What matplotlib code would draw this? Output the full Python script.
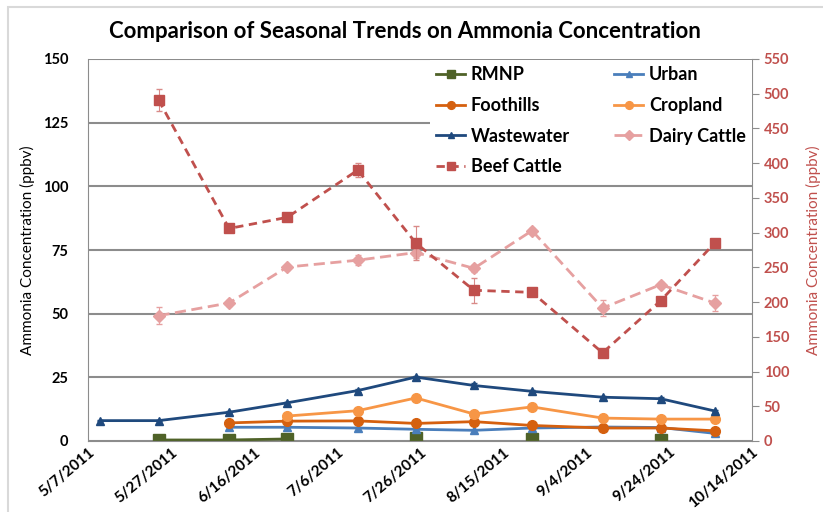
import numpy as np
import pandas as pd
import matplotlib
matplotlib.use("Agg")
import matplotlib.pyplot as plt
from matplotlib.patches import Rectangle

plt.rcParams["font.family"] = ["Lato", "DejaVu Sans"]

# sampling dates (every ~2 weeks)
dates = pd.to_datetime(["2011-05-10", "2011-05-24", "2011-06-10", "2011-06-24",
                        "2011-07-11", "2011-07-25", "2011-08-08", "2011-08-22",
                        "2011-09-08", "2011-09-22", "2011-10-05"])
nan = np.nan

rmnp = [nan, 0.4, 0.4, 0.8, nan, 1.3, nan, 0.8, nan, 0.5, nan]
urban = [nan, nan, 5.4, 5.4, 5.1, 4.6, 4.2, 5.1, 5.5, 5.3, 3.0]
foothills = [nan, nan, 7.1, 7.8, 7.9, 6.9, 7.6, 6.1, 5.1, 5.1, 4.0]
cropland = [nan, nan, nan, 9.8, 11.9, 16.9, 10.6, 13.4, 9.0, 8.6, 8.6]
wastewater = [8.0, 8.0, 11.3, 15.0, 19.8, 25.1, 21.8, 19.5, 17.2, 16.6, 11.8]
dairy = [nan, 49.2, 54.2, 68.3, 71.0, 74.0, 67.8, 82.6, 52.2, 61.4, 54.2]
dairy_err = [nan, 3.3, 1.0, 1.0, 2.0, 2.0, 1.5, 1.0, 3.0, 1.0, 3.0]
beef = [nan, 491, 306, 322, 390, 285, 217, 214, 127, 202, 285]  # right axis
beef_err = [nan, 16, 3, 3, 10, 24, 18, 3, 3, 3, 3]
ww_err = [0.3, 0.3, 0.5, 0.5, 0.5, 0.5, 1.0, 0.5, 0.5, 0.5, 0.5]

tick_dates = pd.date_range("2011-05-07", periods=9, freq="20D")
tick_labels = [f"{d.month}/{d.day}/{d.year}" for d in tick_dates]

fig = plt.figure(figsize=(8.23, 5.12), dpi=100)
ax = fig.add_axes([88/823, 71/512, 664/823, 382/512])
ax2 = ax.twinx()

c_rmnp = "#4F6228"
c_urban = "#4A7EBB"
c_foot = "#D5600F"
c_crop = "#F79646"
c_ww = "#1F497D"
c_dairy = "#E6A0A0"
c_beef = "#C0504D"

l1, = ax.plot(dates, rmnp, color=c_rmnp, marker="s", ms=8, lw=2, label="RMNP")
l2, = ax.plot(dates, urban, color=c_urban, marker="^", ms=6, lw=2, label="Urban")
l3, = ax.plot(dates, foothills, color=c_foot, marker="o", ms=7, lw=2, label="Foothills")
l4, = ax.plot(dates, cropland, color=c_crop, marker="o", ms=7, lw=2, label="Cropland")
ax.errorbar(dates, wastewater, yerr=ww_err, color=c_ww, lw=0, elinewidth=0.8, capsize=2)
l5, = ax.plot(dates, wastewater, color=c_ww, marker="^", ms=6, lw=2, label="Wastewater")
ax.errorbar(dates, dairy, yerr=dairy_err, color=c_dairy, lw=0, elinewidth=0.8, capsize=2)
l6, = ax.plot(dates, dairy, color=c_dairy, marker="D", ms=6, lw=2, ls=(0, (4, 2)),
              label="Dairy Cattle")
ax2.errorbar(dates, beef, yerr=beef_err, color="#D98A88", lw=0, elinewidth=0.8, capsize=2)
l7, = ax2.plot(dates, beef, color=c_beef, marker="s", ms=7, lw=2, ls=(0, (3, 2)),
               label="Beef Cattle")

ax.set_ylim(0, 150)
ax.set_yticks(range(0, 151, 25))
ax2.set_ylim(0, 550)
ax2.set_yticks(range(0, 551, 50))
ax.set_xlim(tick_dates[0], tick_dates[-1])
ax.set_xticks(tick_dates)
ax.set_xticklabels(tick_labels, rotation=40, ha="right", rotation_mode="anchor",
                   fontsize=11, fontweight="bold")

ax.grid(axis="y", color="#8C8C8C", lw=1.5)
ax.set_axisbelow(True)
for a in (ax, ax2):
    for s in a.spines.values():
        s.set_color("#8C8C8C")
    a.spines["top"].set_visible(False)
ax.spines["right"].set_visible(False)
ax2.spines["left"].set_visible(False)
ax2.spines["bottom"].set_visible(False)

ax.tick_params(axis="y", length=0, pad=14, labelsize=10.5)
for t in ax.get_yticklabels():
    t.set_fontweight("bold")
ax.tick_params(axis="x", length=0, pad=3)
ax2.tick_params(axis="y", colors="#8C8C8C", labelcolor="#C0504D", length=5, labelsize=10.5)
for t in ax2.get_yticklabels():
    t.set_fontweight("bold")

ax.set_ylabel("Ammonia Concentration (ppbv)", fontsize=11, labelpad=6)
ax2.set_ylabel("Ammonia Concentration (ppbv)", fontsize=11, color="#C0504D", labelpad=12)

fig.text(405/823, 1 - 31/512, "Comparison of Seasonal Trends on Ammonia Concentration",
         ha="center", va="center", fontsize=16, fontweight="bold")

handles = [l1, l3, l5, l7, l2, l4, l6]
leg = ax2.legend(handles=handles, ncol=2, loc="upper left",
                 bbox_to_anchor=((430 - 88) / 664, 0.997, (752 - 430) / 664, 0),
                 mode="expand", frameon=True, fancybox=False, framealpha=1,
                 edgecolor="white", handlelength=1.6, handletextpad=0.3,
                 labelspacing=0.75, borderaxespad=0, borderpad=0.35, columnspacing=1.0,
                 prop={"size": 13, "weight": "bold"}, markerscale=0.8)
leg.get_frame().set_linewidth(0)

fig.patches.append(Rectangle((8/823, -0.1), 1.2, 1.1 - 7/512, transform=fig.transFigure,
                             fill=False, edgecolor="#D9D9D9", lw=1.5))

fig.savefig("out.png", dpi=100)
